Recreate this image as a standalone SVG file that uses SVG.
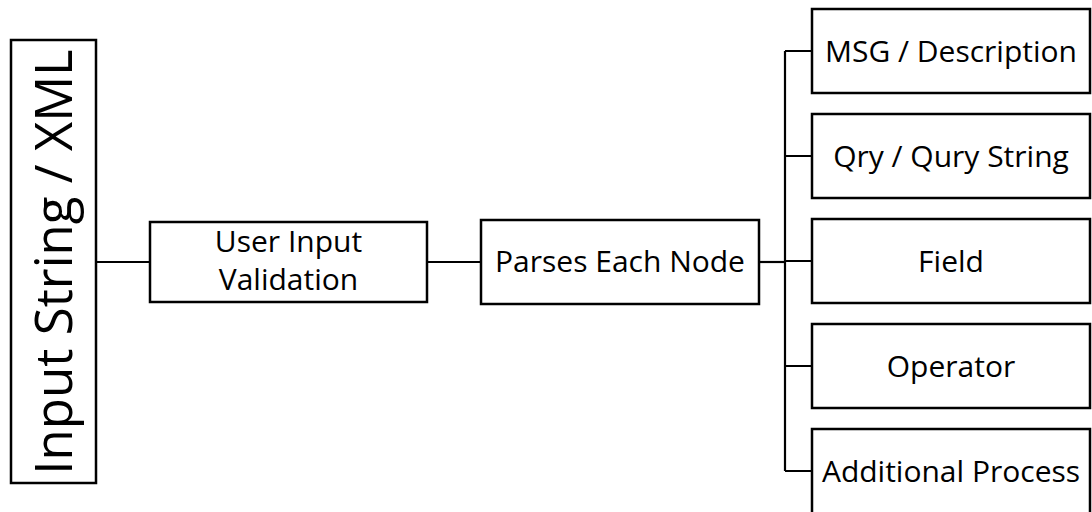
<svg xmlns="http://www.w3.org/2000/svg" width="1092" height="512" viewBox="0 0 1092 512">
<style>
.box{fill:#fff;stroke:#000;stroke-width:2.5}
.ln{fill:none;stroke:#000;stroke-width:2.2}
.t{font-family:"Open Sans","Liberation Sans",Arial,sans-serif;font-size:30px;fill:#000;text-anchor:middle}
</style>
<rect width="1092" height="512" fill="#fff"/>
<g id="connectors">
<path class="ln" d="M96,262H150"/>
<path class="ln" d="M427,262H481"/>
<path class="ln" d="M759,262H785"/>
<path class="ln" d="M785,51V471"/>
<path class="ln" d="M785,51H812M785,156H812M785,261H812M785,366H812M785,471H812"/>
</g>
<g id="input">
<rect class="box" x="11" y="40" width="85" height="443"/>
<text class="t" style="font-size:51px" transform="translate(72,262) rotate(-90)">Input String / XML</text>
</g>
<g id="validation">
<rect class="box" x="150" y="222" width="277" height="80"/>
<text class="t" x="288.5" y="252">User Input</text>
<text class="t" x="288.5" y="290">Validation</text>
</g>
<g id="parses">
<rect class="box" x="481" y="220" width="278" height="84"/>
<text class="t" x="620" y="272">Parses Each Node</text>
</g>
<g id="msg">
<rect class="box" x="812" y="9" width="278" height="84"/>
<text class="t" x="951" y="62">MSG / Description</text>
</g>
<g id="qry">
<rect class="box" x="812" y="114" width="278" height="84"/>
<text class="t" x="951" y="167">Qry / Qury String</text>
</g>
<g id="field">
<rect class="box" x="812" y="219" width="278" height="84"/>
<text class="t" x="951" y="272">Field</text>
</g>
<g id="operator">
<rect class="box" x="812" y="324" width="278" height="84"/>
<text class="t" x="951" y="377">Operator</text>
</g>
<g id="additional">
<rect class="box" x="812" y="429" width="278" height="86"/>
<text class="t" x="951" y="482">Additional Process</text>
</g>
</svg>
